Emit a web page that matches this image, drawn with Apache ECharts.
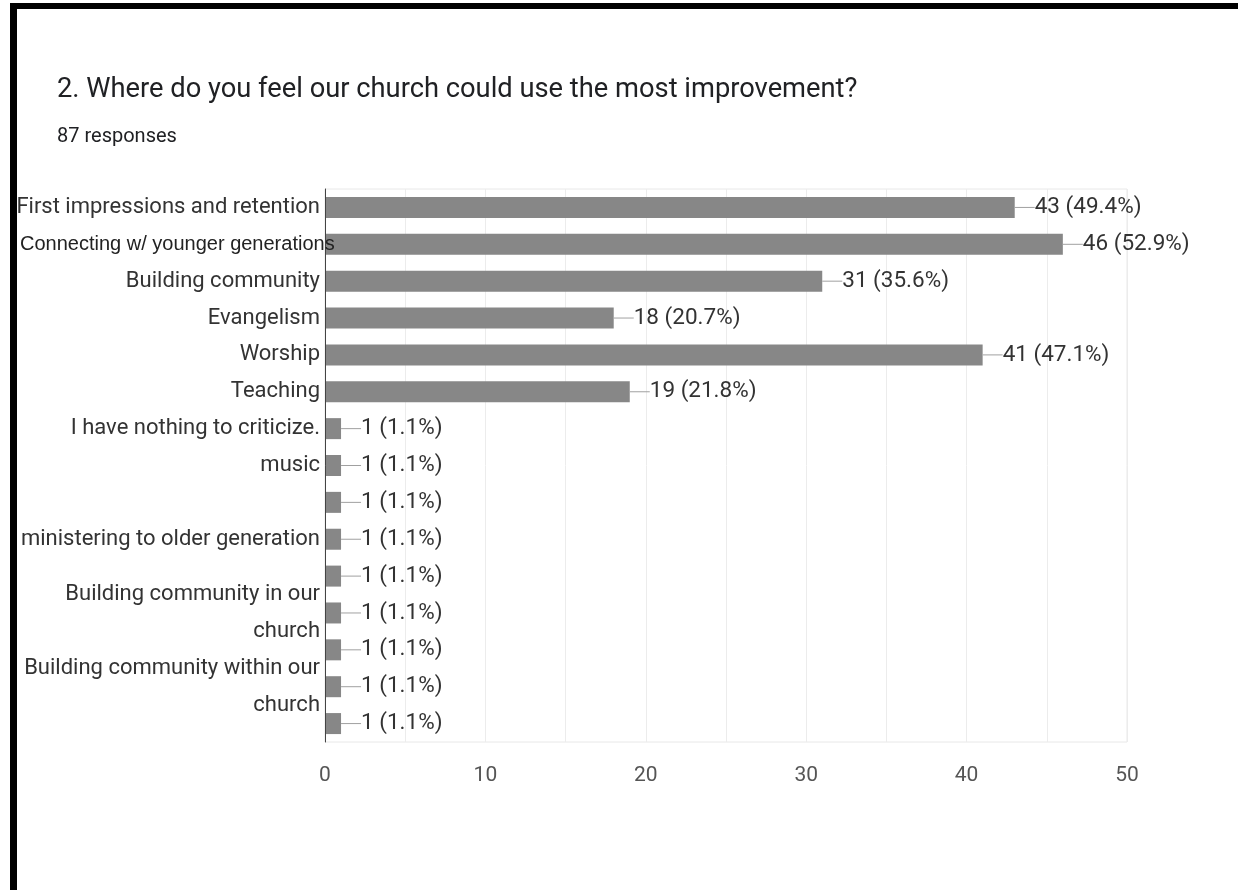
<!DOCTYPE html>
<html>
<head>
<meta charset="utf-8">
<script src="https://cdn.jsdelivr.net/npm/echarts@6/dist/echarts.min.js"></script>
<style>
  html, body { margin: 0; padding: 0; background: #fff; }
  #chart { width: 1238px; height: 890px; }
</style>
</head>
<body>
<div id="chart"></div>
<script>
// data
const question = '2. Where do you feel our church could use the most improvement?'
const totalResponses = 87
const categories = [
  'First impressions and retention',
  'Connecting w/ younger generations',
  'Building community',
  'Evangelism',
  'Worship',
  'Teaching',
  'I have nothing to criticize.',
  'music',
  '',
  'ministering to older generation',
  '',
  'Building community in our\nchurch',
  '',
  'Building community within our\nchurch',
  '',
]
const counts = [43, 46, 31, 18, 41, 19, 1, 1, 1, 1, 1, 1, 1, 1, 1]
const xTicks = [0, 10, 20, 30, 40, 50]

const font = "Roboto, sans-serif"

const chart = echarts.init(document.getElementById('chart'))
chart.setOption({
  animation: false,
  title: [
    {
      text: question,
      left: 52,
      top: 72,
      textStyle: { fontFamily: font, fontSize: 27.3, fontWeight: 'normal', color: '#202124' },
    },
    {
      text: totalResponses + ' responses',
      left: 52,
      top: 122,
      textStyle: { fontFamily: font, fontSize: 20, fontWeight: 'normal', color: '#202124' },
    },
  ],
  graphic: [
    // black frame pieces from the screenshot
    { type: 'rect', shape: { x: 10, y: 3, width: 1228, height: 6 }, style: { fill: '#000' } },
    { type: 'rect', shape: { x: 10, y: 3, width: 7, height: 887 }, style: { fill: '#000' } },
  ],
  grid: {
    left: 325, right: 111, top: 189, bottom: 148,
    outerBoundsMode: 'none',
    show: true, borderColor: '#e8e8e8', borderWidth: 1,
  },
  xAxis: {
    type: 'value',
    min: 0,
    max: 50,
    interval: 5,
    axisLine: { show: false },
    axisTick: { show: false },
    splitLine: { lineStyle: { color: '#ececec' } },
    axisLabel: {
      margin: 23,
      fontFamily: font,
      fontSize: 21,
      color: '#555',
      formatter: (v) => (xTicks.includes(v) ? String(v) : ''),
    },
  },
  yAxis: {
    type: 'category',
    inverse: true,
    data: categories,
    z: 5, // labels sit on top of the bars (the pasted label runs into one)
    axisTick: { show: false },
    axisLine: { lineStyle: { color: '#444', width: 1 } },
    axisLabel: {
      margin: 5,
      fontFamily: font,
      fontSize: 22,
      lineHeight: 37,
      color: '#333',
      interval: 0,
      overflow: 'none',
      formatter: (name) => (name.startsWith('Connecting') ? `{c|${name}}` : name),
      rich: {
        // this one label was pasted over in another font
        c: {
          fontFamily: "'Liberation Sans', Arial, sans-serif", fontSize: 20, color: '#222',
          width: 300, align: 'left', overflow: 'none',
        },
      },
    },
  },
  series: [
    {
      type: 'bar',
      data: counts,
      barWidth: 21,
      itemStyle: { color: '#878787' },
      label: {
        show: true,
        position: 'right',
        distance: 0,
        formatter: (p) => `{l|}{v|${p.value} (${(p.value / totalResponses * 100).toFixed(1)}%)}`,
        rich: {
          l: { width: 20, height: 1, backgroundColor: '#a0a0a0' },
          v: { fontFamily: font, fontSize: 22.5, color: '#333' },
        },
      },
    },
  ],
})
</script>
</body>
</html>
